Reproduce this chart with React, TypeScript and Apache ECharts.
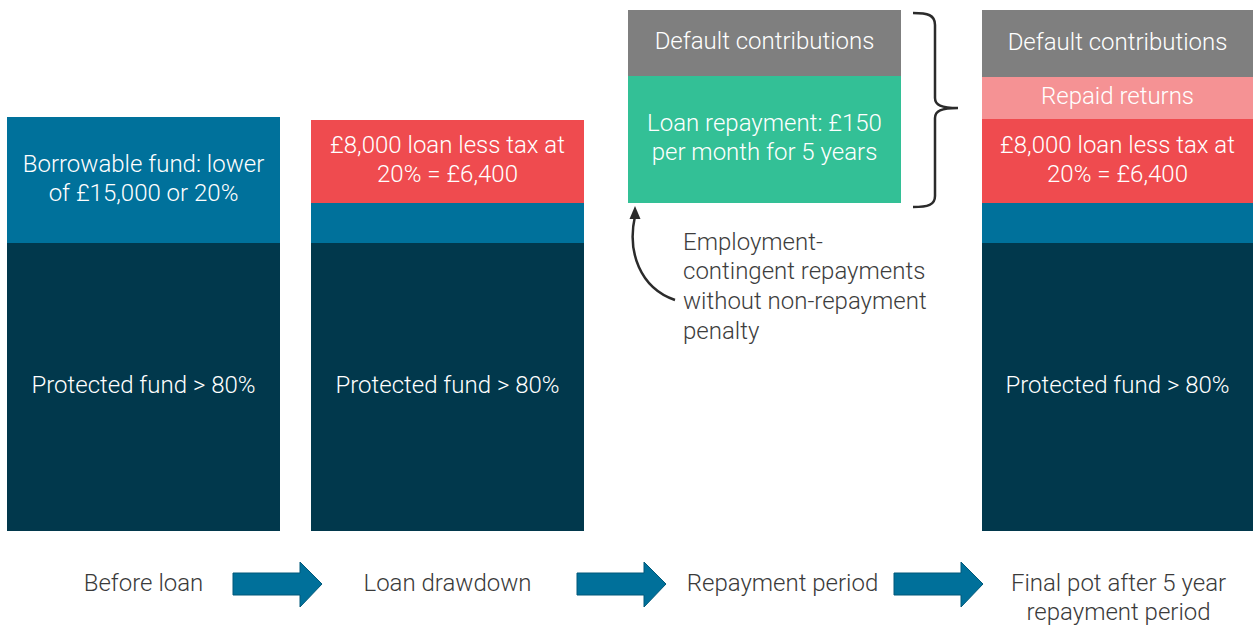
import React, { useEffect, useRef } from "react";
import * as echarts from "echarts";

// Stage names (x categories)
const stages = [
  "Before loan",
  "Loan drawdown",
  "Repayment period",
  "Final pot after 5 year\nrepayment period",
];

// Segment sizes, bottom to top, in relative units
const spacer = [0, 0, 328, 0];
const protectedFund = [288, 288, 0, 288];
const borrowable = [126, 40, 0, 40];
const loanNet = [0, 83, 0, 84];
const loanRepayment = [0, 0, 127, 0];
const repaidReturns = [0, 0, 0, 42];
const defaultContrib = [0, 0, 66, 67];

// Segment labels
const protectedLabels = ["Protected fund > 80%", "Protected fund > 80%", "", "Protected fund > 80%"];
const borrowableLabels = ["Borrowable fund: lower\nof £15,000 or 20%", "", "", ""];
const loanNetLabels = ["", "£8,000 loan less tax at\n20% = £6,400", "", "£8,000 loan less tax at\n20% = £6,400"];
const loanRepaymentLabels = ["", "", "Loan repayment: £150\nper month for 5 years", ""];
const repaidLabels = ["", "", "", "Repaid returns"];
const defaultLabels = ["", "", "Default contributions", "Default contributions"];
const noLabels = ["", "", "", ""];

const annotation = "Employment-\ncontingent repayments\nwithout non-repayment\npenalty";

const FONT = "Roboto";
const FS = 24;

const segments = [
  { name: "spacer", values: spacer, labels: noLabels, color: "rgba(0,0,0,0)" },
  { name: "Protected fund", values: protectedFund, labels: protectedLabels, color: "#01384C" },
  { name: "Borrowable fund", values: borrowable, labels: borrowableLabels, color: "#00719B" },
  { name: "Loan less tax", values: loanNet, labels: loanNetLabels, color: "#EF4B4F" },
  { name: "Loan repayment", values: loanRepayment, labels: loanRepaymentLabels, color: "#33C096" },
  { name: "Repaid returns", values: repaidReturns, labels: repaidLabels, color: "#F59294" },
  { name: "Default contributions", values: defaultContrib, labels: defaultLabels, color: "#7F7F7F" },
];

const columnLefts = [7, 311, 628, 982];
const columnWidth = 273;
const labelShift = [0, 0, 36, 2];
const arrowLefts = [233, 577, 894];

const bracePath =
  "M913,13 C928,13 935,15 935,25 L935,98 C935,105 941,108 958,108 C941,108 935,111 935,118 L935,196 C935,205 928,207 913,207";

export default function App() {
  const ref = useRef<HTMLDivElement>(null);
  useEffect(() => {
    if (!ref.current) return;
    try {
      echarts.graphic.registerShape("brace", echarts.graphic.extendPath(bracePath, {}));
    } catch (e) {}
    const chart = echarts.init(ref.current, null, { renderer: "svg" });

    const grids = columnLefts.map((l) => ({ left: l, width: columnWidth, top: 10, bottom: 96 }));
    const xAxes = stages.map((s, g) => ({
      type: "category",
      gridIndex: g,
      data: [s],
      axisLine: { show: false },
      axisTick: { show: false },
      axisLabel: {
        margin: 37,
        fontSize: FS,
        lineHeight: 29,
        fontFamily: FONT,
        fontWeight: 300,
        color: "#3a3a3a",
        padding: [0, 0, 0, labelShift[g]],
      },
    }));
    const yAxes = stages.map((_, g) => ({
      type: "value",
      gridIndex: g,
      min: 0,
      max: 521,
      show: false,
      splitLine: { show: false },
    }));
    const series: any[] = [];
    stages.forEach((_, g) => {
      segments.forEach((seg) => {
        const text = seg.labels[g];
        series.push({
          type: "bar",
          name: seg.name,
          xAxisIndex: g,
          yAxisIndex: g,
          stack: "s" + g,
          barWidth: "100%",
          silent: true,
          data: [seg.values[g]],
          itemStyle: { color: seg.color },
          label: {
            show: !!text,
            position: "inside",
            formatter: text,
            color: "#ffffff",
            fontSize: FS,
            lineHeight: 29,
            fontFamily: FONT,
            fontWeight: 300,
            offset: [0, -2],
          },
        });
      });
    });

    const graphics: any[] = arrowLefts.map((x0) => ({
      type: "polygon",
      shape: {
        points: [
          [x0, 573],
          [x0 + 67, 573],
          [x0 + 67, 562],
          [x0 + 89, 584],
          [x0 + 67, 607],
          [x0 + 67, 595],
          [x0, 595],
        ],
      },
      style: { fill: "#00709A", stroke: "#00597A", lineWidth: 1 },
    }));
    graphics.push({
      type: "brace",
      x: 0,
      y: 0,
      style: { fill: "none", stroke: "#2b2b2b", lineWidth: 2.5 },
    });
    graphics.push({
      type: "bezierCurve",
      shape: { x1: 675, y1: 300, cpx1: 640, cpy1: 288, cpx2: 627, cpy2: 252, x2: 635, y2: 216 },
      style: { fill: "none", stroke: "#2b2b2b", lineWidth: 2.5 },
    });
    graphics.push({
      type: "polygon",
      shape: { points: [[635, 206], [629.5, 219], [640.5, 219]] },
      style: { fill: "#2b2b2b" },
    });
    graphics.push({
      type: "text",
      x: 683,
      y: 227,
      style: {
        text: annotation,
        fontSize: FS,
        lineHeight: 29.6,
        fontFamily: FONT,
        fontWeight: 300,
        fill: "#3d3d3d",
        verticalAlign: "top",
        align: "left",
      },
    });

    chart.setOption({
      animation: false,
      backgroundColor: "#ffffff",
      grid: grids,
      xAxis: xAxes,
      yAxis: yAxes,
      series,
      graphic: graphics,
    });
    return () => chart.dispose();
  }, []);
  return (
    <div
      ref={ref}
      style={{ position: "fixed", left: 0, top: 0, width: 1253, height: 627 }}
    />
  );
}
